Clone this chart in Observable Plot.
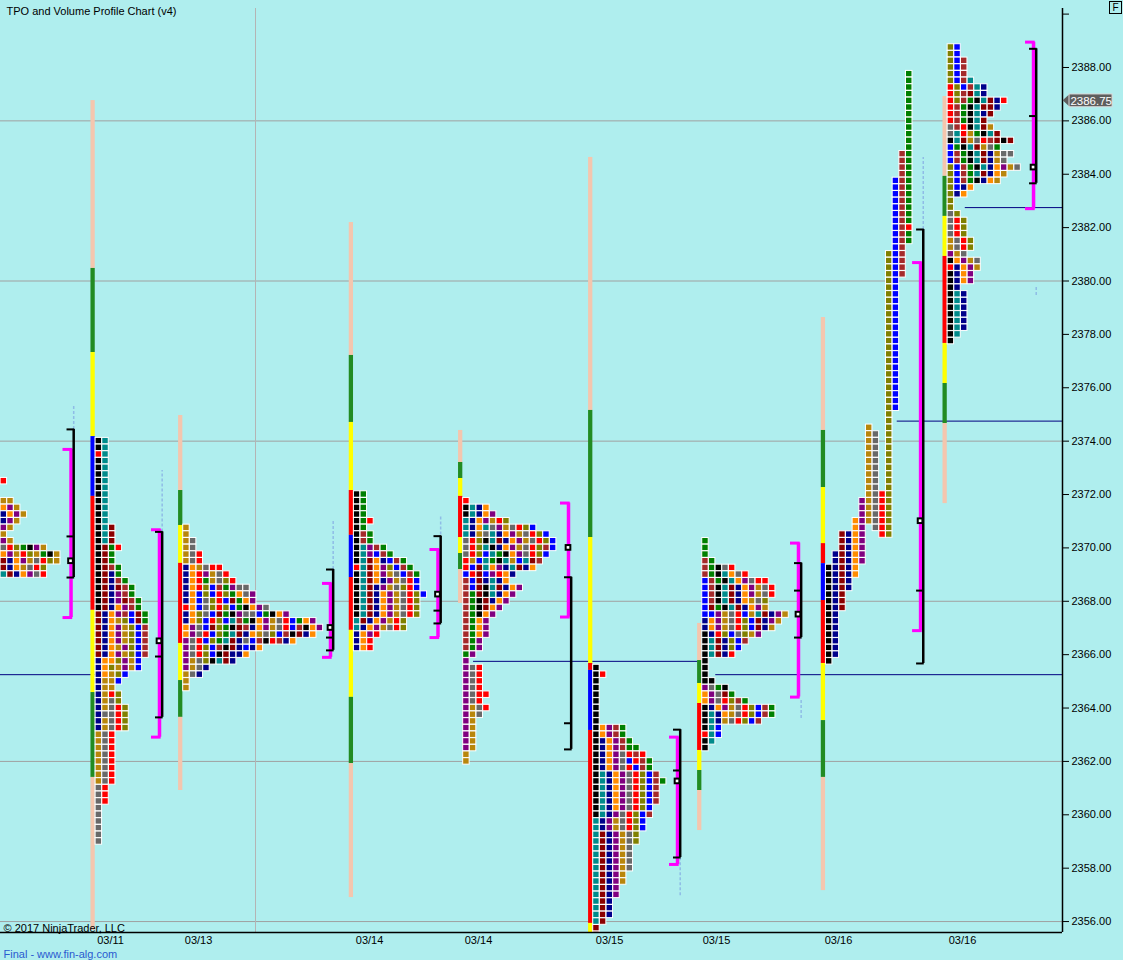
<!DOCTYPE html>
<html><head><meta charset="utf-8">
<script src="https://cdn.jsdelivr.net/npm/d3@7"></script>
<script src="https://cdn.jsdelivr.net/npm/@observablehq/plot@0.6"></script>
<style>
html,body{margin:0;padding:0;background:#AFEEEE;}
#chart{position:relative;width:1123px;height:960px;overflow:hidden;}
#fbox{position:absolute;left:1109px;top:1px;width:11px;height:11px;border:1px solid #000;font:10px 'Liberation Sans',Arial,sans-serif;text-align:center;line-height:11px;}
</style></head><body><div id="chart"></div>
<script>
// ---------- texts ----------
const chartTitle = "TPO and Volume Profile Chart (v4)";
const copyright = "© 2017 NinjaTrader, LLC";
const footer = "Final - www.fin-alg.com";
const dateLabels = ["03/11","03/13","03/14","03/14","03/15","03/15","03/16","03/16"];
const dateLabelX = [16.49, 29.68, 55.31, 71.64, 91.28, 107.31, 125.60, 144.18];
const yTicks = [2356,2358,2360,2362,2364,2366,2368,2370,2372,2374,2376,2378,2380,2382,2384,2386,2388,2390];
const gridPrices = [2356, 2362, 2368, 2374, 2380, 2386];
const sessionBreaks = [38.22];
const lastPrice = 2386.75;

// ---------- TPO letter colours ----------
const tpoColors = {A:"#000000",B:"#008B8B",C:"#8B0000",D:"#00008B",E:"#FF8C00",F:"#800080",G:"#B8860B",H:"#696969",I:"#FF0000",J:"#808000",K:"#0000FF",L:"#A52A2A",M:"#008000"};
const bandColors = {peach:"#F4C6AE", green:"#228B22", yellow:"#FFFF00", red:"#FF0000", blue:"#0000FF"};

// ---------- profile positions (column units) ----------
const profileStart = [0, 14.24, 27.37, 52.95, 69.33, 88.82, 105.16, 123.7, 141.94];
const profileTop   = [2372.5, 2374.0, 2370.75, 2372.0, 2371.75, 2365.5, 2370.25, null, 2388.75];

// ---------- TPO rows (top price downward, one string per 0.25) ----------
const p1Rows = ["I","","","GG","EFG","DEFG","DFG","FG","G","FG","HIJMAFG","EFGIJGMAG","CDEFGHIJG","CDEGHIJ","BCDEFHI"];
const p2Rows = ["AB","AB","IB","AB","AB","AB","AB","AB","AB","AB","AB","AB","AB","ABC","ABC","ABC","ACMI","ACM","ACM","ACLM","ACDM","ACDLM","ACDCLM","ACDFLM","ACDFCLM","ACDEFLM","CDEFLKCM","CDEGJKCM","CDEFGJKL","CDEFGJKL","CDEFGJKL","CDEGFJKL","CDEFGJKL","DEEJFGK","DEJGFGK","DEGJK","DGGK","DGG","DGIJ","DGHJ","DGHIJ","DHHIJ","DGHIJ","DGHIJ","GHI","GHI","GHI","GHI","GHI","GHI","GHI","GHI","HI","HI","HI","H","H","H","H","H","H"];
const p3Rows = ["G","G","GH","GH","GHI","GHI","DEGHII","DEIFGHI","DEIMGHJI","DEIJKLMFHH","DEKJKIJMEHF","DEKHJIKCMEF","IEKHJIJKMAEFH","DEJHKCMAFHHKMAEF","DEJKIJKBLMAEFGHIKMEF","EFHKCJMACLDEFGHIKLAEF","EFHIKJMBCDEGHJKLACDE","FHIKJMBCDHKLAILDE","FHIJKLACDKDE","FHIJKACDDE","FGHJABCD","FGHD","GHD","G","G"];
const p4Rows = ["AM","AM","AM","AM","AMI","AM","ALM","ALM","ABFLM","ABFKLM","ABCEDKLM","IBCEFJKLM","ABCEFGHKLM","ABCEDFGHIK","ABCDFGHJIK","ABCDEFGHIJK","ABCDEFGHIJ","ABCDEFGHIJ","ABCDEFGHIJ","BCDEFGIJ","BDEFGHIJ","DEFI","DEI","DEI"];
const p5Rows = ["I","ABDE","ABDEF","BDEFGIJ","BDEBHFGHIJK","BDGHBDEFGHIJK","HIJABCDEFGHIJK","HIJBADEFGHIJLK","HIJKBMAEFHIJK","IGKBMABGKBCL","IKCBEFDBCDE","KICKFIED","LKCDBDE","LKCABCDEF","LMCABDEF","LMACDEF","LMACEF","LMAEF","LMEF","LMEF","LMEF","LMF","LMF","MF","F","FHI","FHI","FHI","FHI","FHII","FHI","FGHI","FGH","FG","FG","FG","FG","FG","G","G"];
const p6Rows = ["A","AI","A","A","A","A","A","A","A","AEFLM","AEFLM","ADEFLM","ADEFLMM","ADEFHILI","ADEFHKILM","ADEFHIKLM","ABDEFHIJKL","ABDEFHIJKLM","ABDEFHIJKL","ABDEFHIJKL","ABDEFHIJKL","ABDEFHIJK","ABDFHIJKL","BDFGHIJK","BDFGHIJK","BCDFGHJ","BCDFGHJ","BCDFGH","BCDFGH","BCDFGH","BCDFGH","BCDFG","BCDFG","BCDF","BCDF","BCD","BCD","BCD","BC","C","C"];
const p7Rows = ["M","M","M","LM","LMAHI","LMABEHI","KLMABEFHII","KLABCDEFGHI","KLABCDEFGHI","KLABCDEGHJ","KCMABCDEFG","KKFGHIKGBCDFG","DEFGHIJKCDFG","DEFGHIJKCDG","ADIJKHJGF","ABCDJKL","ABCDJK","ABCDI","A","A","A","AA","FHMA","EFHCM","EFHIJLM","ADEFGHIJKLM","ABDEGHIJKLM","ABDGHIJKL","ABK","IBK","AB","A"];
// profile 8 drawn split: [column, letter, high, low]
const p8Segments = [[0,"A",2369.25,2365.75],[1,"D",2369.75,2366.0],[2,"C",2370.5,2367.75],[3,"D",2370.5,2368.5],[4,"E",2371.0,2369.0],[5,"F",2371.75,2369.5],[6,"G",2374.5,2371.0],[7,"H",2374.25,2370.75],[8,"I",2372.0,2370.5],[9,"J",2381.0,2370.5],[10,"K",2383.75,2375.25],[11,"L",2384.75,2380.25],[12,"M",2387.75,2381.5],[12,"I",2382.0,2382.0]];
const p9Rows = ["JK","JK","JKL","JKL","JKL","JKLB","IJKLBD","IJLCBD","IJLMABCDI","ILMABCCD","ILMABDC","ILMABC","HLIABCG","HBIGMABC","ABCGHILCAC","KMABCGHM","KLMABCDGHH","KLMABCDGH","JKLMABDEFGH","JKLMBCDEG","JKLMADEG","JKDE","JDE","J","J","HJ","HIJ","HIJ","HIJ","GHIJ","GHIJ","FGH","AEFGH","IDEFG","ADEF","ADEF","AD","ABD","ABD","ABD","ABD","ABD","ABD","AB","A"];

// ---------- distribution bars [high, low, colour] ----------
const p1Bands = [];
const p2Bands = [[2386.76,2380.47,"peach"],[2380.47,2377.32,"green"],[2377.32,2374.17,"yellow"],[2374.17,2371.93,"blue"],[2371.93,2367.66,"red"],[2367.66,2364.58,"yellow"],[2364.58,2361.40,"green"],[2361.40,2355.67,"peach"]];
const p3Bands = [[2374.96,2372.15,"peach"],[2372.15,2370.84,"green"],[2370.84,2369.42,"yellow"],[2369.42,2366.42,"red"],[2366.42,2365.03,"yellow"],[2365.03,2363.65,"green"],[2363.65,2360.91,"peach"]];
const p4Bands = [[2382.19,2377.21,"peach"],[2377.21,2374.70,"green"],[2374.70,2372.15,"yellow"],[2372.15,2370.47,"red"],[2370.47,2368.89,"blue"],[2368.89,2366.91,"red"],[2366.91,2364.40,"yellow"],[2364.40,2361.92,"green"],[2361.92,2356.90,"peach"]];
const p5Bands = [[2374.40,2373.20,"peach"],[2373.20,2372.60,"green"],[2372.60,2371.93,"yellow"],[2371.93,2370.39,"red"],[2370.39,2369.79,"yellow"],[2369.79,2369.19,"green"],[2369.19,2367.92,"peach"]];
const p6Bands = [[2384.63,2375.15,"peach"],[2375.15,2370.39,"green"],[2370.39,2365.67,"yellow"],[2365.67,2365.41,"red"],[2365.41,2363.16,"blue"],[2363.16,2355.93,"red"],[2355.93,2355.5,"yellow"]];
const p7Bands = [[2367.17,2365.78,"peach"],[2365.78,2364.92,"green"],[2364.92,2364.17,"yellow"],[2364.17,2362.41,"red"],[2362.41,2361.66,"yellow"],[2361.66,2360.91,"green"],[2360.91,2359.41,"peach"]];
const p8Bands = [[2378.63,2374.40,"peach"],[2374.40,2372.26,"green"],[2372.26,2370.16,"yellow"],[2370.16,2369.41,"red"],[2369.41,2368.03,"blue"],[2368.03,2365.67,"red"],[2365.67,2363.53,"yellow"],[2363.53,2361.40,"green"],[2361.40,2357.16,"peach"]];
const p9Bands = [[2386.91,2383.92,"peach"],[2383.92,2382.42,"green"],[2382.42,2380.92,"yellow"],[2380.92,2377.66,"red"],[2377.66,2376.16,"yellow"],[2376.16,2374.66,"green"],[2374.66,2371.66,"peach"]];

// ---------- value-area brackets ----------
const bracketX = [10.57, 23.83, 49.46, 65.57, 85.13, 101.47, 119.6, 137.9, 154.83];
const vaMagHi  = [2373.69, 2370.68, 2368.67, 2369.94, 2371.68, 2362.91, 2370.18, 2380.69, 2388.95];
const vaMagLo  = [2367.39, 2362.91, 2365.90, 2366.64, 2367.41, 2358.14, 2364.41, 2366.90, 2382.71];
const vaBlkHi  = [2374.44, 2370.60, 2369.19, 2370.44, 2368.90, 2363.19, 2369.43, 2381.93, 2388.70];
const vaBlkLo  = [2368.89, 2363.65, 2366.16, 2367.17, 2362.45, 2358.40, 2366.64, 2365.67, 2383.66];
const vaBlkMid = [2370.43, 2365.93, 2366.64, 2367.65, 2363.43, 2361.66, 2368.40, 2368.40, 2386.18];
const pocPrice = [2369.5, 2366.5, 2367.0, 2368.25, 2370.0, 2361.25, 2367.5, 2371.0, 2384.25];
// faint range extensions at the black bracket [profile, high, low]
const faintRanges = [[0, 2375.34, 2374.44], [1, 2372.90, 2370.60], [2, 2371.03, 2369.19], [3, 2371.21, 2370.30], [5, 2358.40, 2356.97], [6, 2364.28, 2363.61], [7, 2384.63, 2381.93], [8, 2379.83, 2379.46]];

// ---------- naked POC lines [price, xStart, xEnd] ----------
const nakedLines = [[2365.25, 0, 14.24], [2365.75, 70.9, 104.5], [2365.25, 107.2, 159.17], [2374.75, 134.4, 159.17], [2382.75, 144.6, 159.17]];

// ---------- build ----------
const TICK = 0.25;
const Y_MIN = 2355.59, Y_MAX = 2390.21, X_MAX = 159.17;
const rowSets = [p1Rows, p2Rows, p3Rows, p4Rows, p5Rows, p6Rows, p7Rows, null, p9Rows];
const bandSets = [p1Bands, p2Bands, p3Bands, p4Bands, p5Bands, p6Bands, p7Bands, p8Bands, p9Bands];

const cells = [];
rowSets.forEach((rows, pi) => {
  if (!rows) return;
  rows.forEach((s, r) => [...s].forEach((ch, c) => {
    if (tpoColors[ch]) cells.push({x: profileStart[pi] + c, y: profileTop[pi] - r * TICK, fill: tpoColors[ch]});
  }));
});
p8Segments.forEach(([c, ch, hi, lo]) => {
  const n = Math.round((hi - lo) / TICK);
  for (let k = 0; k <= n; k++) cells.push({x: profileStart[7] + c, y: hi - k * TICK, fill: tpoColors[ch]});
});

const bands = [];
bandSets.forEach((b, pi) => b.forEach(([hi, lo, c]) => bands.push({start: profileStart[pi], hi, lo, fill: bandColors[c]})));

const brackets = bracketX.map((x, i) => ({x, mHi: vaMagHi[i], mLo: vaMagLo[i], bHi: vaBlkHi[i], bLo: vaBlkLo[i], mid: vaBlkMid[i], poc: pocPrice[i]}));
const magTicks = brackets.flatMap(b => [{x: b.x, y: b.mHi}, {x: b.x, y: b.mLo}]);
const blkTicks = brackets.flatMap(b => [{x: b.x, y: b.bHi}, {x: b.x, y: b.bLo}, {x: b.x, y: b.mid}]);

const chart = Plot.plot({
  width: 1123, height: 960,
  marginTop: 8, marginBottom: 28, marginLeft: 0, marginRight: 61,
  style: {background: "#AFEEEE", fontFamily: "'Liberation Sans', Arial, sans-serif", fontSize: "11px", color: "black", overflow: "visible"},
  x: {domain: [0, X_MAX], axis: null},
  y: {domain: [Y_MIN, Y_MAX], axis: "right", ticks: yTicks, tickFormat: d => d === 2390 ? "" : d.toFixed(2), tickSize: 6, tickPadding: 3, label: null},
  color: {type: "identity"},
  marks: [
    Plot.ruleY(gridPrices, {stroke: "#A0A0A0", strokeWidth: 1}),
    Plot.ruleX(sessionBreaks, {stroke: "#B4B4B4", strokeWidth: 1}),
    Plot.ruleY(nakedLines, {y: d => d[0], x1: d => d[1], x2: d => d[2], stroke: "#000080", strokeWidth: 1}),
    Plot.ruleX(faintRanges, {x: d => bracketX[d[0]] + 0.4, y1: d => d[2], y2: d => d[1], stroke: "#8FBCE6", strokeWidth: 1.5, strokeDasharray: "3,2"}),
    Plot.rect(bands, {x1: d => d.start - 0.68, x2: d => d.start - 0.04, y1: d => d.lo, y2: d => d.hi, fill: d => d.fill, clip: true}),
    Plot.rect(cells, {x1: d => d.x, x2: d => d.x + 1, y1: d => d.y - TICK / 2, y2: d => d.y + TICK / 2, fill: d => d.fill, stroke: "white", strokeWidth: 1, inset: 0.1, clip: true}),
    Plot.ruleX(brackets, {x: d => d.x, y1: d => d.mLo, y2: d => d.mHi, stroke: "#FF00FF", strokeWidth: 3.5}),
    Plot.ruleY(magTicks, {y: d => d.y, x1: d => d.x - 1.2, x2: d => d.x + 0.25, stroke: "#FF00FF", strokeWidth: 3}),
    Plot.ruleX(brackets, {x: d => d.x + 0.4, y1: d => d.bLo, y2: d => d.bHi, stroke: "black", strokeWidth: 2.5}),
    Plot.ruleY(blkTicks, {y: d => d.y, x1: d => d.x - 0.6, x2: d => d.x + 0.55, stroke: "black", strokeWidth: 2}),
    Plot.rect(brackets, {x1: d => d.x - 0.5, x2: d => d.x + 0.5, y1: d => d.poc - TICK / 2, y2: d => d.poc + TICK / 2, fill: "white", stroke: "black", strokeWidth: 2, inset: 1}),
    Plot.ruleY([Y_MIN], {stroke: "black", strokeWidth: 1.5}),
    Plot.ruleX([X_MAX], {stroke: "black", strokeWidth: 1.5}),
    // last price marker
    Plot.areaX([lastPrice + 0.23, lastPrice, lastPrice - 0.23], {y: d => d, x1: (d, i) => i === 1 ? X_MAX + 0.1 : X_MAX + 1.1, x2: X_MAX + 1.1, fill: "#5E5E5E"}),
    Plot.rect([lastPrice], {x1: X_MAX + 1.05, x2: X_MAX + 7.5, y1: d => d - 0.24, y2: d => d + 0.24, fill: "#5E5E5E", stroke: "#DDDDDD", strokeWidth: 1}),
    Plot.text([lastPrice], {x: X_MAX + 4.3, y: d => d, text: d => d.toFixed(2), fill: "white", fontSize: 11.5}),
    // labels
    Plot.text(dateLabels, {x: (d, i) => dateLabelX[i], frameAnchor: "bottom", lineAnchor: "top", dy: 4, fontSize: 11, fill: "black"}),
    Plot.text([chartTitle], {frameAnchor: "top-left", lineAnchor: "top", dx: 6, dy: -1, fontSize: 11, fill: "black"}),
    Plot.text([copyright], {frameAnchor: "bottom-left", lineAnchor: "bottom", dx: 3, dy: -1, fontSize: 11, fill: "black"}),
    Plot.text([footer], {frameAnchor: "bottom-left", lineAnchor: "bottom", dx: 3, dy: 25, fontSize: 11, fill: "#2A5BD0"})
  ]
});
const host = document.getElementById("chart");
host.appendChild(chart);
const fb = document.createElement("div");
fb.id = "fbox"; fb.textContent = "F";
host.appendChild(fb);
</script></body></html>
